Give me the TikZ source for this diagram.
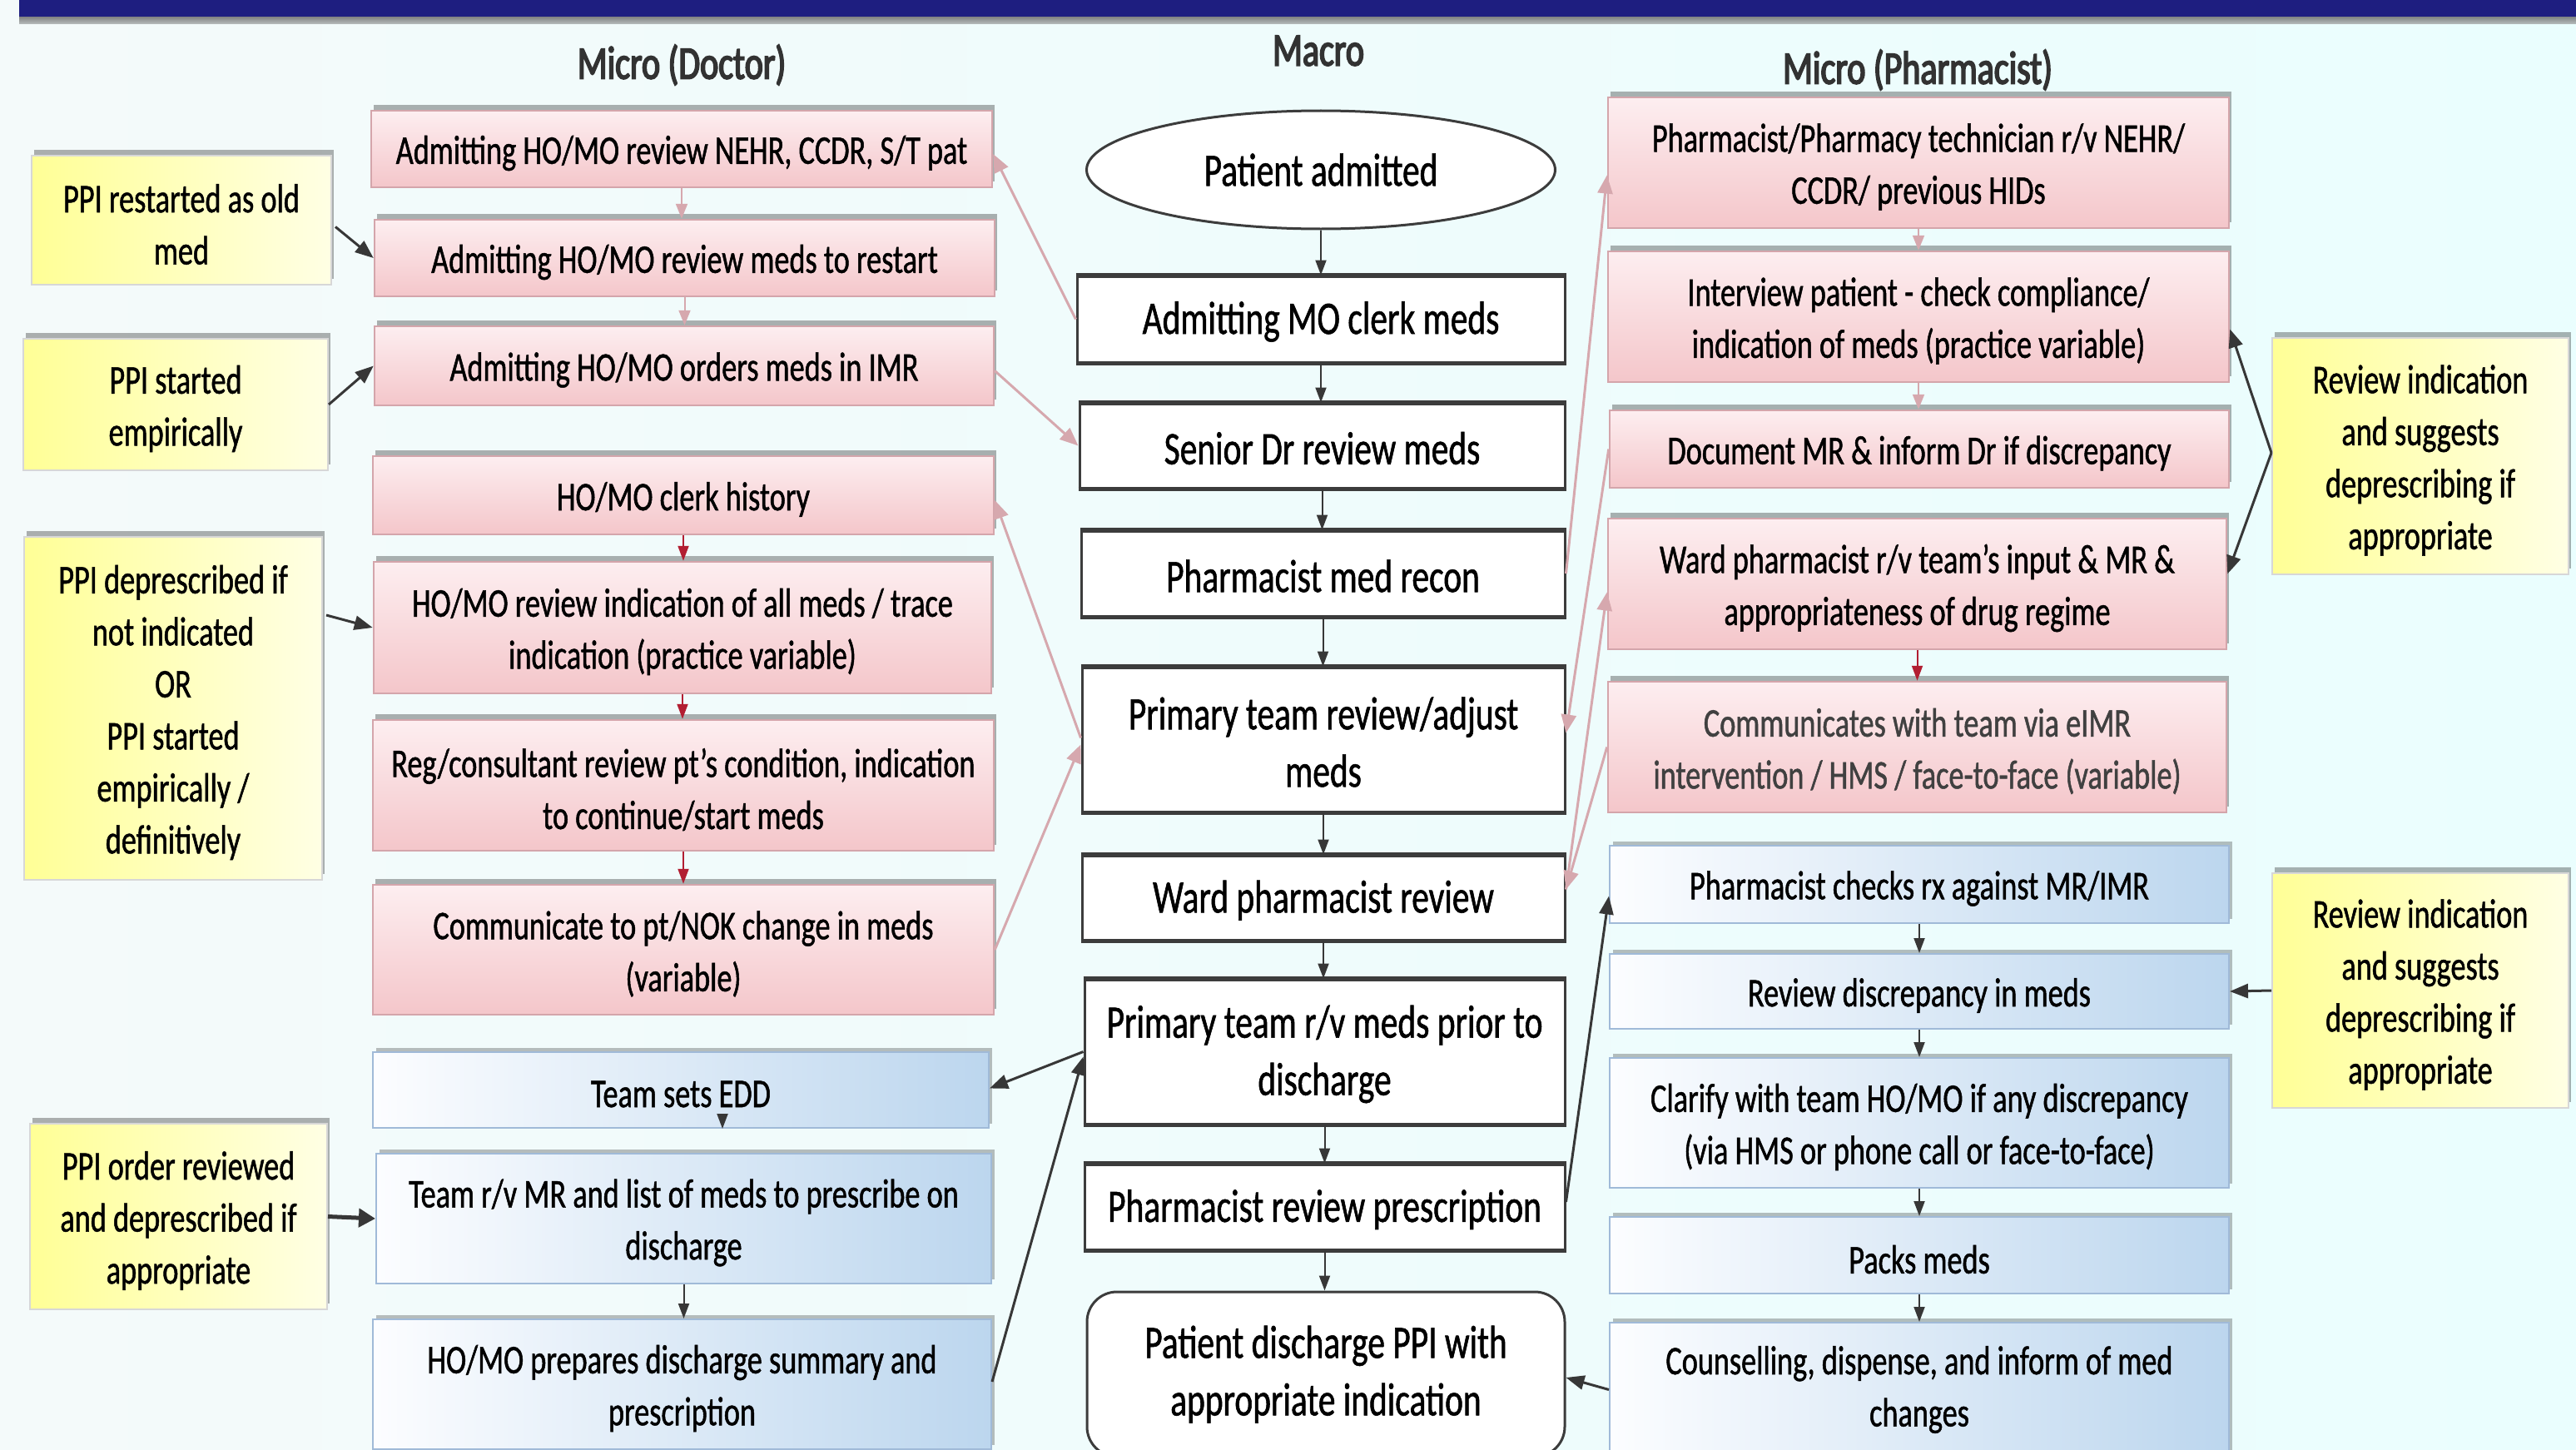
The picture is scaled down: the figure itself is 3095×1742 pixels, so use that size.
\documentclass[tikz,border=0pt]{standalone}
\usepackage{fontspec}
\setmainfont{Carlito}[FakeStretch=0.74,FakeBold=1.0]
\newfontfamily\headfont{Carlito}[FakeStretch=0.75,FakeBold=3.0]
\usetikzlibrary{arrows.meta,shapes.geometric,shadows,calc}
\definecolor{bgL}{RGB}{244,250,250}
\definecolor{bgR}{RGB}{234,254,254}
\definecolor{navy}{RGB}{30,30,128}
\definecolor{pinkTop}{RGB}{253,238,240}
\definecolor{pinkBot}{RGB}{244,198,202}
\definecolor{pinkEdge}{RGB}{212,165,171}
\definecolor{pinkArrow}{RGB}{214,168,174}
\definecolor{blueL}{RGB}{252,253,255}
\definecolor{blueR}{RGB}{188,214,238}
\definecolor{blueEdge}{RGB}{160,186,216}
\definecolor{yelL}{RGB}{255,255,150}
\definecolor{yelR}{RGB}{255,255,228}
\definecolor{yelEdge}{RGB}{215,215,215}
\definecolor{darkRed}{RGB}{178,30,50}
\definecolor{darkC}{RGB}{55,55,55}
\definecolor{macroEdge}{RGB}{60,60,60}
\definecolor{headC}{RGB}{50,50,50}
\definecolor{greyText}{RGB}{64,64,64}
\newcommand\fbody{\fontsize{49}{62.5}\selectfont}
\newcommand\fmacro{\fontsize{56}{69}\selectfont}
% box (named #3) and its text (named #3t)
\newcommand\boxnode[8][]{%
  \node[#2,minimum width={#6-#4},minimum height={#7-#5}] (#3) at ({(#4+#6)/2},{(#5+#7)/2}) {};
  \node[boxtext,#1] (#3t) at (#3.center) {#8};}
\begin{document}
\begin{tikzpicture}[x=1pt,y=-1pt,
  pinkbox/.style={draw=pinkEdge,line width=2.5,top color=pinkTop,bottom color=pinkBot,
    drop shadow={shadow xshift=3,shadow yshift=-7,opacity=0.3,fill=black},inner sep=0},
  bluebox/.style={draw=blueEdge,line width=2,left color=blueL,right color=blueR,
    drop shadow={shadow xshift=4,shadow yshift=-5,opacity=0.25,fill=black},inner sep=0},
  yelbox/.style={draw=yelEdge,line width=2,left color=yelL,right color=yelR,
    drop shadow={shadow xshift=3,shadow yshift=-7,opacity=0.3,fill=black},inner sep=0},
  macrobox/.style={draw=macroEdge,line width=3,fill=white,inner sep=0},
  boxtext/.style={align=center,inner sep=0,font=\fbody,yshift=-5},
  macrotext/.style={font=\fmacro,yshift=2},
  header/.style={text=headC,font=\headfont\fmacro,inner sep=0},
  pinkdown/.style={draw=pinkArrow,line width=2,-{Triangle[length=18pt,width=14pt]}},
  reddown/.style={draw=darkRed,line width=2,-{Triangle[length=18pt,width=13pt]}},
  greydown/.style={draw=darkC,line width=2,-{Triangle[length=18pt,width=13pt]}},
  pinkconn/.style={draw=pinkArrow,line width=3,-{Triangle[length=22pt,width=18pt]}},
  darkconn/.style={draw=darkC,line width=3,-{Triangle[length=22pt,width=17pt]}},
  thickconn/.style={draw=darkC,line width=5,-{Triangle[length=20pt,width=22pt]}}
]
\useasboundingbox (0,0) rectangle (3095,1742);
\fill[left color=bgL,right color=bgR] (0,0) rectangle (3095,1742);
\fill[top color=black!45,bottom color=bgL,opacity=0.6] (23,19) rectangle (3095,29);
\fill[navy] (23,0) rectangle (3095,20);

% headers
\node[header] (hd) at (819,78) {Micro (Doctor)};
\node[header] (hm) at (1584,61) {Macro};
\node[header] (hp) at (2304,84) {Micro (Pharmacist)};

% doctor column
\boxnode{pinkbox}{d1}{446}{133}{1192}{225}{Admitting HO/MO review NEHR, CCDR, S/T pat}
\boxnode{pinkbox}{d2}{450}{264}{1195}{356}{Admitting HO/MO review meds to restart}
\boxnode{pinkbox}{d3}{450}{392}{1194}{487}{Admitting HO/MO orders meds in IMR}
\boxnode{pinkbox}{d4}{448}{548}{1194}{642}{HO/MO clerk history}
\boxnode{pinkbox}{d5}{449}{675}{1191}{833}{HO/MO review indication of all meds / trace\\indication (practice variable)}
\boxnode{pinkbox}{d6}{448}{865}{1194}{1022}{Reg/consultant review pt's condition, indication\\to continue/start meds}
\boxnode{pinkbox}{d7}{448}{1063}{1194}{1219}{Communicate to pt/NOK change in meds\\(variable)}
\boxnode{bluebox}{d8}{448}{1264}{1188}{1355}{Team sets EDD}
\boxnode{bluebox}{d9}{452}{1386}{1191}{1542}{Team r/v MR and list of meds to prescribe on\\discharge}
\boxnode{bluebox}{d10}{448}{1585}{1191}{1741}{HO/MO prepares discharge summary and\\prescription}

% yellow notes left
\boxnode{yelbox}{y1}{38}{187}{398}{342}{PPI restarted as old\\med}
\boxnode{yelbox}{y2}{28}{407}{394}{565}{PPI started\\empirically}
\boxnode{yelbox}{y3}{29}{645}{387}{1057}{PPI deprescribed if\\not indicated\\OR\\PPI started\\empirically /\\definitively}
\boxnode{yelbox}{y4}{36}{1350}{393}{1573}{PPI order reviewed\\and deprescribed if\\appropriate}

% macro column
\node[ellipse,draw=macroEdge,line width=3,fill=white,minimum width=563,minimum height=142,inner sep=0,font=\fmacro] (m0) at (1587,204) {Patient admitted};
\boxnode[macrotext]{macrobox}{m1}{1294}{332}{1880}{435}{Admitting MO clerk meds}
\boxnode[macrotext]{macrobox}{m2}{1297}{485}{1880}{586}{Senior Dr review meds}
\boxnode[macrotext]{macrobox}{m3}{1299}{638}{1880}{740}{Pharmacist med recon}
\boxnode[macrotext]{macrobox}{m4}{1300}{802}{1880}{975}{Primary team review/adjust\\meds}
\boxnode[macrotext]{macrobox}{m5}{1300}{1028}{1880}{1129}{Ward pharmacist review}
\boxnode[macrotext]{macrobox}{m6}{1303}{1177}{1880}{1350}{Primary team r/v meds prior to\\discharge}
\boxnode[macrotext]{macrobox}{m7}{1303}{1399}{1880}{1501}{Pharmacist review prescription}
\boxnode[macrotext,yshift=3]{macrobox,rounded corners=36}{m8}{1306}{1552}{1880}{1750}{Patient discharge PPI with\\appropriate indication}
\foreach \n in {m1,m2,m3,m4,m5,m6,m7}{
  \draw[macroEdge,line width=5] (\n.north west) -- (\n.north east) (\n.south west) -- (\n.south east);
}

% pharmacist column
\boxnode{pinkbox}{p1}{1932}{117}{2678}{274}{Pharmacist/Pharmacy technician r/v NEHR/\\CCDR/ previous HIDs}
\boxnode{pinkbox}{p2}{1932}{302}{2678}{459}{Interview patient - check compliance/\\indication of meds (practice variable)}
\boxnode{pinkbox}{p3}{1934}{493}{2678}{586}{Document MR \& inform Dr if discrepancy}
\boxnode{pinkbox}{p4}{1932}{623}{2675}{780}{Ward pharmacist r/v team's input \& MR \&\\appropriateness of drug regime}
\boxnode[text=greyText]{pinkbox}{p5}{1932}{819}{2675}{976}{Communicates with team via eIMR\\intervention / HMS / face-to-face (variable)}
\boxnode{bluebox}{p6}{1934}{1016}{2678}{1109}{Pharmacist checks rx against MR/IMR}
\boxnode{bluebox}{p7}{1934}{1146}{2678}{1236}{Review discrepancy in meds}
\boxnode{bluebox}{p8}{1934}{1271}{2678}{1427}{Clarify with team HO/MO if any discrepancy\\(via HMS or phone call or face-to-face)}
\boxnode{bluebox}{p9}{1934}{1462}{2678}{1554}{Packs meds}
\boxnode[yshift=5]{bluebox}{p10}{1934}{1589}{2678}{1750}{Counselling, dispense, and inform of med\\changes}

% yellow notes right
\boxnode{yelbox}{y5}{2730}{406}{3086}{690}{Review indication\\and suggests\\deprescribing if\\appropriate}
\boxnode{yelbox}{y6}{2730}{1049}{3086}{1331}{Review indication\\and suggests\\deprescribing if\\appropriate}

% vertical arrows doctor column
\draw[pinkdown] (d1.south) -- (d1.south |- d2.north);
\draw[pinkdown] (d2.south) -- (d2.south |- d3.north);
\draw[reddown] (d4.south) -- (d4.south |- d5.north);
\draw[reddown] (d5.south) -- (d5.south |- d6.north);
\draw[reddown] (d6.south) -- (d6.south |- d7.north);
\draw[greydown] ($(d8.south)+(50,-15)$) -- ($(d8.south)+(50,0)$ |- d9.north);
\draw[greydown] (d9.south) -- (d9.south |- d10.north);

% vertical arrows macro column
\draw[greydown] (m0.south) -- (m0.south |- m1.north);
\draw[greydown] (m1.south) -- (m1.south |- m2.north);
\draw[greydown] (m2.south) -- (m2.south |- m3.north);
\draw[greydown] (m3.south) -- (m3.south |- m4.north);
\draw[greydown] (m4.south) -- (m4.south |- m5.north);
\draw[greydown] (m5.south) -- (m5.south |- m6.north);
\draw[greydown] (m6.south) -- (m6.south |- m7.north);
\draw[greydown] (m7.south) -- (m7.south |- m8.north);

% vertical arrows pharmacist column
\draw[pinkdown] (p1.south) -- (p1.south |- p2.north);
\draw[pinkdown] (p2.south) -- (p2.south |- p3.north);
\draw[reddown] (p4.south) -- (p4.south |- p5.north);
\draw[greydown] (p6.south) -- (p6.south |- p7.north);
\draw[greydown] (p7.south) -- (p7.south |- p8.north);
\draw[greydown] (p8.south) -- (p8.south |- p9.north);
\draw[greydown] (p9.south) -- (p9.south |- p10.north);

% doctor <-> macro connectors
\draw[pinkconn] (m1.west) -- ($(d1.east)+(0,6)$);
\draw[pinkconn] ($(d3.east)+(0,6)$) -- (m2.west);
\draw[pinkconn] ($(m4.west)+(0,-2)$) -- ($(d4.east)+(0,6)$);
\draw[pinkconn] (d7.east) -- ($(m4.west)+(0,6)$);
\draw[darkconn] (m6.west) -- ($(d8.east)+(0,-2)$);
\draw[darkconn] ($(d10.east)+(0,-3)$) -- ($(m6.west)+(0,6)$);

% macro <-> pharmacist connectors
\draw[pinkconn] (m3.east) -- ($(p1.west)+(0,15)$);
\draw[pinkconn] (p3.west) -- ($(m4.east)+(0,-8)$);
\draw[pinkconn] ($(m5.east)+(0,-10)$) -- ($(p4.west)+(0,10)$);
\draw[pinkconn] (p5.west) -- ($(m5.east)+(0,-10)$);
\draw[darkconn] ($(m7.east)+(0,-6)$) -- ($(p6.west)+(0,14)$);
\draw[darkconn] (p10.west) -- ($(m8.east)+(0,4)$);

% yellow note arrows
\draw[darkconn] ($(y1.east)+(4,8)$) -- (d2.west);
\draw[darkconn] (y2.east) -- (d3.west);
\draw[darkconn] ($(y3.east)+(4,-112)$) -- (d5.west);
\draw[thickconn] (y4.east) -- (d9.west);
\draw[darkconn] ($(y5.west)+(0,-4)$) -- ($(p2.east)+(0,15)$);
\draw[darkconn] ($(y5.west)+(0,-4)$) -- ($(p4.east)+(0,-12)$);
\draw[darkconn] (y6.west) -- (p7.east);
\end{tikzpicture}
\end{document}
